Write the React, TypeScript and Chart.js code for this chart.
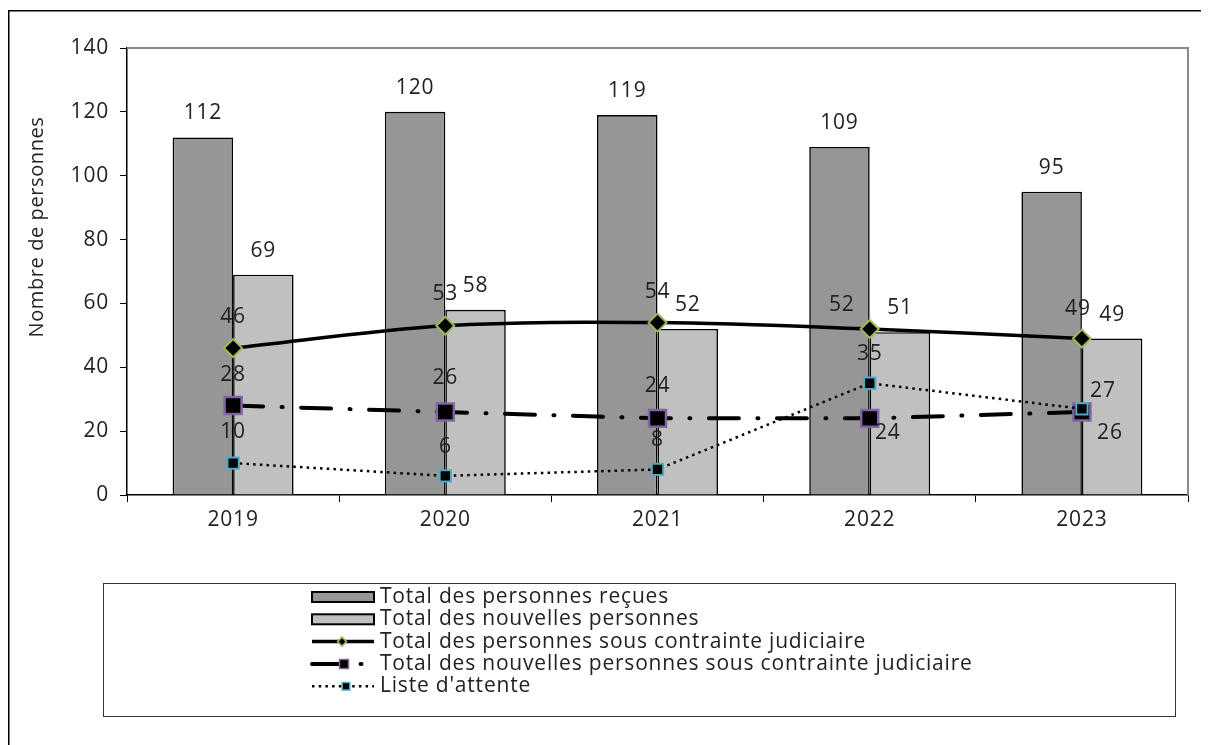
import React, { useEffect, useRef } from 'react';
import { Chart, registerables } from 'chart.js';

Chart.register(...registerables);

// ---------- data ----------
const years = ['2019', '2020', '2021', '2022', '2023'];
const totalRecues = [112, 120, 119, 109, 95];
const totalNouvelles = [69, 58, 52, 51, 49];
const sousContrainte = [46, 53, 54, 52, 49];
const nouvellesSousContrainte = [28, 26, 24, 24, 26];
const listeAttente = [10, 6, 8, 35, 27];
const seriesNames = [
  'Total des personnes reçues',
  'Total des nouvelles personnes',
  'Total des personnes sous contrainte judiciaire',
  'Total des nouvelles personnes sous contrainte judiciaire',
  "Liste d'attente",
];
const yMin = 0;
const yMax = 140;
const yStep = 20;
const axisTitle = 'Nombre de personnes';

// ---------- style ----------
const FONT = "'Open Sans', sans-serif";
const TEXT = '#222';
const SPACING = '0.8px';
const DARK = '#969696';
const LIGHT = '#c0c0c0';
const GREEN = '#9bbb59';
const PURPLE = '#8064a2';
const CYAN = '#4bacc6';
const DASHDOT = [30, 18.5, 1, 18.5];
const DOTTED = [2.5, 4.2];

// label offsets (px) relative to the mark: [dx, dy]
const labelOffsets: number[][][] = [
  [[0, -24], [0, -24], [0, -24], [0, -24], [0, -24]],
  [[0, -24], [0, -24], [0, -24], [0, -24], [0, -24]],
  [[0, -31], [0, -32], [0, -31], [-28, -24], [-4, -30]],
  [[0, -31], [0, -34], [0, -32], [18, 15], [28, 21]],
  [[0, -31], [0, -29], [0, -29], [0, -29], [21, -18]],
];

const W = 1201;
const H = 737;

function drawMarker(ctx: CanvasRenderingContext2D, kind: string, x: number, y: number, half: number, border: string, bw: number) {
  ctx.beginPath();
  if (kind === 'diamond') {
    ctx.moveTo(x, y - half);
    ctx.lineTo(x + half, y);
    ctx.lineTo(x, y + half);
    ctx.lineTo(x - half, y);
    ctx.closePath();
  } else {
    ctx.rect(x - half, y - half, half * 2, half * 2);
  }
  ctx.fillStyle = '#000';
  ctx.fill();
  ctx.lineWidth = bw;
  ctx.strokeStyle = border;
  ctx.setLineDash([]);
  ctx.stroke();
}

const spacingPlugin = {
  id: 'spacing',
  beforeUpdate(chart: any) {
    chart.ctx.letterSpacing = SPACING;
  },
  beforeDraw(chart: any) {
    const ctx = chart.ctx;
    ctx.letterSpacing = SPACING;
    ctx.save();
    ctx.fillStyle = '#fff';
    ctx.fillRect(0, 0, chart.width, chart.height);
    ctx.strokeStyle = '#000';
    ctx.lineWidth = 1.5;
    ctx.beginPath();
    ctx.moveTo(0.75, chart.height);
    ctx.lineTo(0.75, 2.75);
    ctx.lineTo(chart.width, 2.75);
    ctx.stroke();
    ctx.restore();
  },
};

const plotBorderPlugin = {
  id: 'plotBorder',
  beforeDatasetsDraw(chart: any) {
    const { ctx, chartArea: a } = chart;
    ctx.save();
    ctx.strokeStyle = '#8a8a8a';
    ctx.lineWidth = 2;
    ctx.beginPath();
    ctx.moveTo(a.left, a.top);
    ctx.lineTo(a.right, a.top);
    ctx.lineTo(a.right, a.bottom);
    ctx.stroke();
    ctx.restore();
  },
};

const labelsPlugin = {
  id: 'valueLabels',
  afterDatasetsDraw(chart: any) {
    const ctx = chart.ctx;
    ctx.save();
    ctx.font = `21px ${FONT}`;
    ctx.fillStyle = TEXT;
    ctx.textAlign = 'center';
    ctx.textBaseline = 'middle';
    ctx.letterSpacing = SPACING;
    chart.data.datasets.forEach((ds: any, di: number) => {
      const meta = chart.getDatasetMeta(di);
      meta.data.forEach((el: any, i: number) => {
        const [dx, dy] = labelOffsets[di][i];
        ctx.fillText(String(ds.data[i]), el.x + dx, el.y + dy);
      });
    });
    ctx.restore();
  },
};

const titlePlugin = {
  id: 'axisTitle',
  afterDraw(chart: any) {
    const { ctx, chartArea: a } = chart;
    ctx.save();
    ctx.translate(a.left - 90, a.top + 179);
    ctx.rotate(-Math.PI / 2);
    ctx.font = `20px ${FONT}`;
    ctx.letterSpacing = '0.6px';
    ctx.fillStyle = TEXT;
    ctx.textAlign = 'center';
    ctx.textBaseline = 'middle';
    ctx.fillText(axisTitle, 0, 0);
    ctx.restore();
  },
};

const legendPlugin = {
  id: 'customLegend',
  afterDraw(chart: any) {
    const ctx = chart.ctx;
    const box = { left: 95.5, top: 575.5, right: 1167.5, bottom: 708.5 };
    const symL = 304;
    const symR = 366;
    const textX = 372;
    const rowY0 = 589;
    const rowGap = 22.3;
    ctx.save();
    ctx.strokeStyle = '#333';
    ctx.lineWidth = 1;
    ctx.strokeRect(box.left, box.top, box.right - box.left, box.bottom - box.top);
    const dsets = chart.data.datasets;
    dsets.forEach((ds: any, i: number) => {
      const y = rowY0 + rowGap * i;
      if (ds.type === 'bar') {
        ctx.fillStyle = ds.backgroundColor;
        ctx.fillRect(symL, y - 5, symR - symL, 10);
        ctx.strokeStyle = '#000';
        ctx.lineWidth = 2;
        ctx.setLineDash([]);
        ctx.strokeRect(symL, y - 5, symR - symL, 10);
      } else {
        ctx.strokeStyle = '#000';
        ctx.lineWidth = ds.borderWidth;
        ctx.lineCap = ds.borderCapStyle || 'butt';
        ctx.setLineDash(ds.borderDash || []);
        ctx.beginPath();
        ctx.moveTo(symL, y);
        ctx.lineTo(symR, y);
        ctx.stroke();
        ctx.lineCap = 'butt';
        if (i === 2) drawMarker(ctx, 'diamond', 334, y, 4.5, GREEN, 1.5);
        if (i === 3) drawMarker(ctx, 'rect', 336, y, 4.5, PURPLE, 1.5);
        if (i === 4) drawMarker(ctx, 'rect', 338, y, 3.8, CYAN, 1.5);
      }
      ctx.setLineDash([]);
      ctx.font = `21px ${FONT}`;
      ctx.letterSpacing = '0.8px';
      ctx.fillStyle = TEXT;
      ctx.textAlign = 'left';
      ctx.textBaseline = 'middle';
      ctx.fillText(ds.label, textX, y);
    });
    ctx.restore();
  },
};

export default function App() {
  const ref = useRef<HTMLCanvasElement | null>(null);

  useEffect(() => {
    if (!ref.current) return;
    const chart = new Chart(ref.current, {
      type: 'bar',
      data: {
        labels: years,
        datasets: [
          {
            type: 'bar',
            label: seriesNames[0],
            data: totalRecues,
            backgroundColor: DARK,
            borderColor: '#000',
            borderWidth: 1.6,
            categoryPercentage: 0.57,
            barPercentage: 1,
            order: 3,
          },
          {
            type: 'bar',
            label: seriesNames[1],
            data: totalNouvelles,
            backgroundColor: LIGHT,
            borderColor: '#000',
            borderWidth: 1.6,
            categoryPercentage: 0.57,
            barPercentage: 1,
            order: 4,
          },
          {
            type: 'line',
            label: seriesNames[2],
            data: sousContrainte,
            borderColor: '#000',
            borderWidth: 3.5,
            tension: 0.33,
            fill: false,
            pointStyle: 'rectRot',
            pointRadius: 9,
            pointBackgroundColor: '#000',
            pointBorderColor: GREEN,
            pointBorderWidth: 2,
            order: 2,
          },
          {
            type: 'line',
            label: seriesNames[3],
            data: nouvellesSousContrainte,
            borderColor: '#000',
            borderWidth: 4,
            borderDash: DASHDOT,
            borderCapStyle: 'round',
            tension: 0,
            fill: false,
            pointStyle: 'rect',
            pointRadius: 12,
            pointBackgroundColor: '#000',
            pointBorderColor: PURPLE,
            pointBorderWidth: 2.5,
            order: 1,
          },
          {
            type: 'line',
            label: seriesNames[4],
            data: listeAttente,
            borderColor: '#000',
            borderWidth: 2.5,
            borderDash: DOTTED,
            tension: 0,
            fill: false,
            pointStyle: 'rect',
            pointRadius: 8,
            pointBackgroundColor: '#000',
            pointBorderColor: CYAN,
            pointBorderWidth: 2,
            order: 0,
          },
        ] as any,
      },
      options: {
        animation: false,
        responsive: false,
        events: [],
        layout: { padding: { top: 40, right: 21, left: 0, bottom: 0 } },
        plugins: {
          legend: { display: false },
          tooltip: { enabled: false },
          title: { display: false },
        },
        scales: {
          x: {
            offset: true,
            grid: {
              offset: true,
              drawOnChartArea: false,
              drawTicks: true,
              tickLength: 7,
              color: '#000',
              lineWidth: 1,
            },
            border: { display: true, color: '#000', width: 1.5 },
            ticks: { font: { family: FONT, size: 21 }, color: TEXT, padding: 5 },
            afterFit: (s: any) => {
              s.height = 250;
            },
          },
          y: {
            min: yMin,
            max: yMax,
            ticks: { stepSize: yStep, font: { family: FONT, size: 21 }, color: TEXT, padding: 11 },
            grid: {
              drawOnChartArea: false,
              drawTicks: true,
              tickLength: 7,
              color: '#000',
              lineWidth: 1,
            },
            border: { display: true, color: '#000', width: 1.5 },
            afterFit: (s: any) => {
              s.width = 119;
            },
          },
        },
      } as any,
      plugins: [spacingPlugin, plotBorderPlugin, labelsPlugin, titlePlugin, legendPlugin],
    });
    return () => chart.destroy();
  }, []);

  return (
    <div style={{ width: W, height: H, overflow: 'hidden' }}>
      <style>{'html,body{overflow:hidden}'}</style>
      <canvas ref={ref} width={W} height={H} style={{ display: 'block', width: W, height: H }} />
    </div>
  );
}
